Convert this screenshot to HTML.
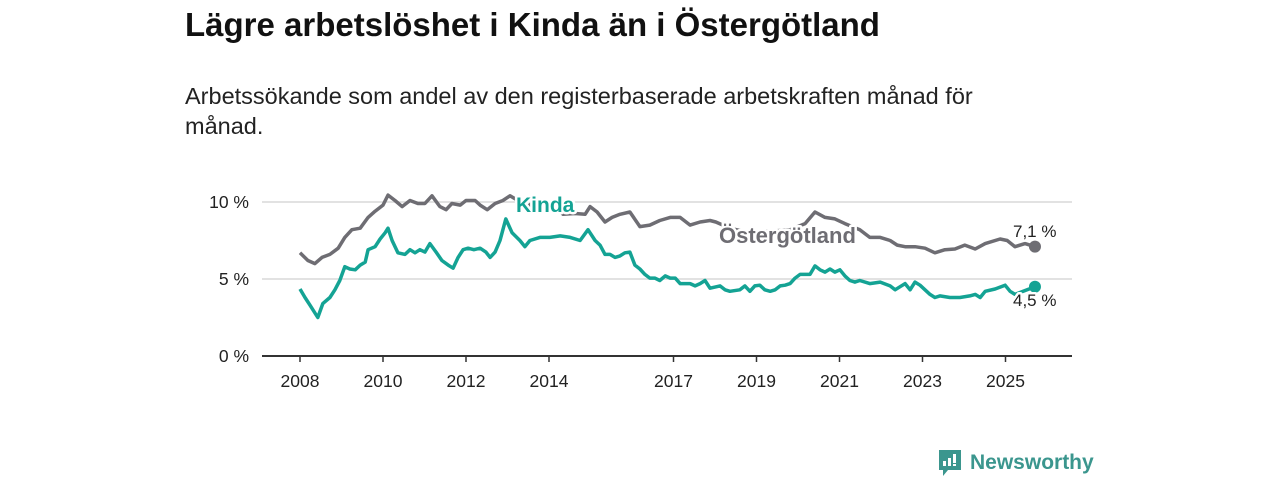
<!DOCTYPE html>
<html><head><meta charset="utf-8"><style>
body{margin:0;width:1280px;height:480px;background:#fff;font-family:"Liberation Sans","DejaVu Sans",sans-serif;overflow:hidden;position:relative}
#title{position:absolute;left:185px;top:6px;font-size:33px;font-weight:bold;color:#111;margin:0;white-space:nowrap}
#sub{position:absolute;left:185px;top:81px;font-size:23.5px;line-height:30px;color:#222;width:850px}
svg{position:absolute;left:0;top:0}
</style></head><body>
<h1 id="title">Lägre arbetslöshet i Kinda än i Östergötland</h1>
<div id="sub">Arbetssökande som andel av den registerbaserade arbetskraften månad för månad.</div>
<svg id="chart" width="1280" height="480"></svg>
<script>
const ostYears=[2008.00,2008.19,2008.36,2008.53,2008.72,2008.92,2009.08,2009.25,2009.45,2009.64,2009.81,2010.00,2010.12,2010.29,2010.46,2010.65,2010.84,2011.01,2011.18,2011.37,2011.52,2011.66,2011.86,2012.00,2012.22,2012.34,2012.51,2012.70,2012.89,2013.06,2013.25,2013.42,2013.59,2013.78,2013.95,2014.14,2014.34,2014.63,2014.87,2014.99,2015.16,2015.35,2015.52,2015.71,2015.95,2016.19,2016.43,2016.67,2016.92,2017.16,2017.40,2017.64,2017.88,2018.02,2018.36,2018.84,2019.33,2019.81,2020.17,2020.41,2020.65,2020.89,2021.13,2021.49,2021.73,2021.98,2022.22,2022.39,2022.58,2022.82,2023.06,2023.30,2023.54,2023.78,2024.02,2024.27,2024.51,2024.87,2025.04,2025.23,2025.47,2025.71];
const ostValues=[6.7,6.2,6.0,6.4,6.6,7.0,7.7,8.2,8.3,9.0,9.4,9.8,10.45,10.1,9.7,10.1,9.9,9.9,10.4,9.7,9.5,9.9,9.8,10.1,10.1,9.8,9.5,9.9,10.1,10.4,10.1,9.6,9.9,9.8,10.1,9.7,9.2,9.25,9.2,9.7,9.35,8.7,9.0,9.2,9.35,8.4,8.5,8.8,9.0,9.0,8.5,8.7,8.8,8.7,8.3,8.0,8.1,8.2,8.6,9.35,9.0,8.9,8.6,8.2,7.7,7.7,7.5,7.2,7.1,7.1,7.0,6.7,6.9,6.95,7.2,6.95,7.3,7.6,7.5,7.1,7.3,7.1];
const kinYears=[2008.00,2008.12,2008.24,2008.43,2008.55,2008.72,2008.84,2008.96,2009.08,2009.20,2009.33,2009.45,2009.57,2009.64,2009.81,2009.93,2010.05,2010.12,2010.22,2010.36,2010.53,2010.65,2010.77,2010.89,2011.01,2011.13,2011.28,2011.42,2011.57,2011.69,2011.81,2011.93,2012.05,2012.19,2012.34,2012.48,2012.58,2012.70,2012.82,2012.96,2013.11,2013.30,2013.42,2013.54,2013.78,2014.02,2014.27,2014.51,2014.75,2014.94,2015.11,2015.23,2015.35,2015.47,2015.59,2015.71,2015.83,2015.95,2016.07,2016.19,2016.31,2016.43,2016.55,2016.67,2016.80,2016.92,2017.04,2017.16,2017.40,2017.52,2017.64,2017.76,2017.88,2018.12,2018.24,2018.36,2018.60,2018.72,2018.84,2018.96,2019.08,2019.20,2019.33,2019.45,2019.57,2019.69,2019.81,2019.93,2020.05,2020.29,2020.41,2020.53,2020.65,2020.77,2020.89,2021.01,2021.13,2021.25,2021.37,2021.49,2021.73,2021.98,2022.22,2022.34,2022.46,2022.58,2022.70,2022.82,2022.94,2023.06,2023.18,2023.30,2023.42,2023.66,2023.90,2024.14,2024.27,2024.39,2024.51,2024.75,2024.99,2025.11,2025.23,2025.71];
const kinValues=[4.35,3.8,3.3,2.5,3.4,3.8,4.3,4.9,5.8,5.65,5.6,5.9,6.1,6.9,7.1,7.6,8.0,8.3,7.5,6.7,6.6,6.9,6.7,6.9,6.75,7.3,6.75,6.2,5.9,5.7,6.4,6.9,7.0,6.9,7.0,6.75,6.4,6.75,7.5,8.9,8.0,7.5,7.1,7.5,7.7,7.7,7.8,7.7,7.5,8.2,7.5,7.2,6.6,6.6,6.4,6.5,6.7,6.75,5.9,5.65,5.3,5.06,5.06,4.9,5.2,5.06,5.06,4.7,4.7,4.55,4.7,4.9,4.4,4.55,4.3,4.2,4.3,4.55,4.2,4.55,4.6,4.3,4.2,4.3,4.55,4.6,4.7,5.06,5.3,5.3,5.85,5.6,5.45,5.65,5.45,5.6,5.2,4.9,4.8,4.9,4.7,4.8,4.55,4.3,4.5,4.7,4.3,4.8,4.6,4.3,4.0,3.8,3.9,3.8,3.8,3.9,4.0,3.8,4.2,4.35,4.6,4.2,4.0,4.5];
const yTicks=[0,5,10];
const yTickLabels=["0 %","5 %","10 %"];
const xTicks=[2008,2010,2012,2014,2017,2019,2021,2023,2025];
const xTickLabels=["2008","2010","2012","2014","2017","2019","2021","2023","2025"];

const NS="http://www.w3.org/2000/svg";
const svg=document.getElementById('chart');
const xs=y=>300+(y-2008)*41.5;
const ys=v=>356-v*15.4;
function mk(tag,attrs,parent){const e=document.createElementNS(NS,tag);for(const k in attrs)e.setAttribute(k,attrs[k]);(parent||svg).appendChild(e);return e;}

yTicks.forEach((t,i)=>{
  if(t>0){const g=mk('line',{x1:262,x2:1072,y1:ys(t),y2:ys(t),stroke:'#d9d9d9','stroke-width':1.5});
  
  }
  const l=mk('text',{x:249,y:ys(t)+6,'text-anchor':'end','font-size':17.5,fill:'#222'});
  l.textContent=yTickLabels[i];
  
  
});
const ax=mk('line',{x1:262,x2:1072,y1:356,y2:356,stroke:'#333','stroke-width':2});


xTicks.forEach((t,i)=>{
  mk('line',{x1:xs(t),x2:xs(t),y1:356,y2:362,stroke:'#333','stroke-width':1.5});
  const l=mk('text',{x:xs(t),y:387,'text-anchor':'middle','font-size':17.5,fill:'#222'});
  l.textContent=xTickLabels[i];
  
  
});
function line(yrs,vals,color,name){
  const d=yrs.map((y,i)=>(i?'L':'M')+xs(y).toFixed(1)+','+ys(vals[i]).toFixed(1)).join('');
  const p=mk('path',{d:d,fill:'none',stroke:color,'stroke-width':3.5,'stroke-linejoin':'round'});
  
  
  const n=yrs.length-1;
  const c=mk('circle',{cx:xs(yrs[n]),cy:ys(vals[n]),r:6,fill:color});
  
  
}
line(ostYears,ostValues,'#6e6d73','ostergotland-line');
line(kinYears,kinValues,'#14a394','kinda-line');
function lbl(x,y,t,color,name,size,bold){
  const e=mk('text',{x:x,y:y,'font-size':size,'font-weight':bold?'bold':'normal',fill:color,stroke:'#fff','stroke-width':5,'paint-order':'stroke','stroke-linejoin':'round'});
  e.textContent=t;
  
  
}
lbl(516,212,'Kinda','#14a394','kinda-label',21,true);
lbl(719,243,'Östergötland','#6e6d73','ostergotland-label',22,true);
lbl(1013,237,'7,1 %','#222','ostergotland-value-label',17,false);
lbl(1013,306,'4,5 %','#222','kinda-value-label',17,false);
</script>
<div style="position:absolute;left:938px;top:449px;display:flex;align-items:center">
<svg width="24" height="28" style="position:static" viewBox="0 0 24 28"><path d="M1 1H23V21H10L5 27V21H1Z" fill="#3b968e"/><rect x="5" y="12" width="3" height="5" fill="#fff"/><rect x="10" y="9" width="3" height="8" fill="#fff"/><rect x="15" y="5" width="3" height="9" fill="#fff"/><rect x="15" y="15" width="3" height="2" fill="#fff"/></svg>
<span style="margin-left:8px;font-size:21px;font-weight:bold;color:#3b968e">Newsworthy</span></div>
</body></html>
